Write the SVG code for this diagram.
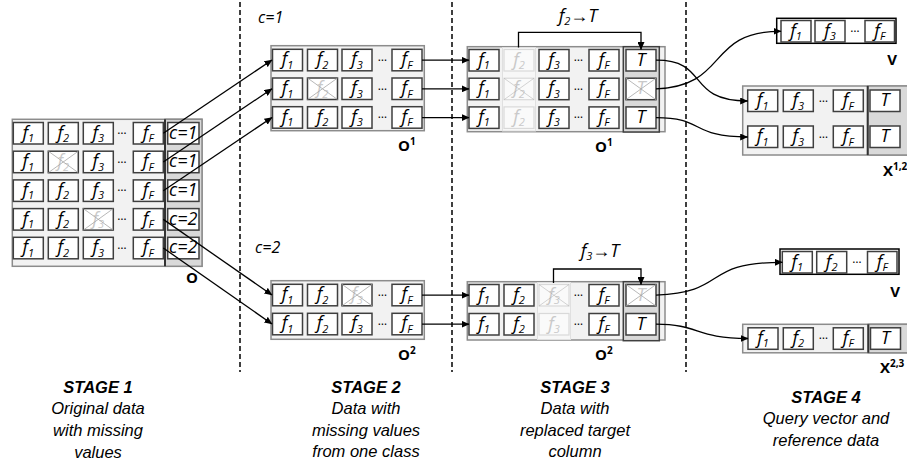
<svg xmlns="http://www.w3.org/2000/svg" width="907" height="466" viewBox="0 0 907 466">
<defs>
<style>
.tb{fill:#f2f2f2;stroke:#8c8c8c;stroke-width:1.5}
.cl{fill:#d9d9d9;stroke:#8c8c8c;stroke-width:1.5}
.tc{fill:#d9d9d9;stroke:#404040;stroke-width:1.5}
.vb{fill:#fff;stroke:#000;stroke-width:1.5}
.dv{stroke:#333;stroke-width:2}
.c{fill:#fff;stroke:#3f3f3f;stroke-width:1.5}
.fc{fill:#fafafa;stroke:#d9d9d9;stroke-width:1.2}
.fcol{fill:#f7f7f7;stroke:#e0e0e0;stroke-width:1}
.x{stroke:#a6a6a6;stroke-width:0.8}
.f{font-family:"Open Sans","Liberation Sans",sans-serif;font-style:italic;font-size:18px;text-anchor:middle;fill:#000}
.s{font-size:11px}
.g{fill:#c9c9c9}
.d{font-family:"Open Sans","Liberation Sans",sans-serif;font-size:12px;text-anchor:middle;fill:#000}
.lb{font-family:"Open Sans","Liberation Sans",sans-serif;font-weight:bold;font-size:15px;fill:#000}
.sup{font-size:10px}
.st{font-family:"Liberation Sans",Arial,sans-serif;font-style:italic;font-size:16.5px;text-anchor:middle;fill:#000}
.stb{font-weight:bold}
.lc{font-family:"Open Sans","Liberation Sans",sans-serif;font-style:italic;font-size:16px;fill:#000}
.cn{fill:none;stroke:#000;stroke-width:1.3}
.dash{stroke:#000;stroke-width:1.5;stroke-dasharray:5 3}
</style>
<marker id="ah" markerWidth="8" markerHeight="7" refX="7.5" refY="3.5" orient="auto" markerUnits="userSpaceOnUse"><path d="M0,0 L8,3.5 L0,7 z" fill="#000"/></marker>
</defs>

<g id="separators">
<line class="dash" x1="240" y1="2" x2="240" y2="372"/>
<line class="dash" x1="452" y1="2" x2="452" y2="372"/>
<line class="dash" x1="686" y1="2" x2="686" y2="372"/>
</g>

<!-- STAGE 1 -->
<g id="stage1-O">
<rect class="tb" x="12.3" y="119.3" width="189.7" height="147"/>
<rect class="cl" x="165" y="119.3" width="37" height="147"/>
<line class="dv" x1="165" y1="119.3" x2="165" y2="266.3"/>
<!-- row 1 -->
<rect class="c" x="13.3" y="122.5" width="30" height="21.5"/><text class="f" x="28.3" y="138.5">f<tspan class="s" dy="3.5">1</tspan></text>
<rect class="c" x="48.3" y="122.5" width="30" height="21.5"/><text class="f" x="63.3" y="138.5">f<tspan class="s" dy="3.5">2</tspan></text>
<rect class="c" x="83.3" y="122.5" width="30" height="21.5"/><text class="f" x="98.3" y="138.5">f<tspan class="s" dy="3.5">3</tspan></text>
<text class="d" x="122" y="134">…</text>
<rect class="c" x="133.3" y="122.5" width="30" height="21.5"/><text class="f" x="148.3" y="138.5">f<tspan class="s" dy="3.5">F</tspan></text>
<rect class="c" x="167.7" y="122.5" width="31.3" height="21.5"/><text class="f" x="183.3" y="138.5" font-size="16">c=1</text>
<!-- row 2 -->
<rect class="c" x="13.3" y="151.2" width="30" height="21.5"/><text class="f" x="28.3" y="167.2">f<tspan class="s" dy="3.5">1</tspan></text>
<rect class="c" x="48.3" y="151.2" width="30" height="21.5"/><text class="f g" x="63.3" y="167.2">f<tspan class="s" dy="3.5">2</tspan></text>
<path class="x" d="M48.3,151.2 L78.3,172.7 M78.3,151.2 L48.3,172.7"/>
<rect class="c" x="83.3" y="151.2" width="30" height="21.5"/><text class="f" x="98.3" y="167.2">f<tspan class="s" dy="3.5">3</tspan></text>
<text class="d" x="122" y="162.7">…</text>
<rect class="c" x="133.3" y="151.2" width="30" height="21.5"/><text class="f" x="148.3" y="167.2">f<tspan class="s" dy="3.5">F</tspan></text>
<rect class="c" x="167.7" y="151.2" width="31.3" height="21.5"/><text class="f" x="183.3" y="167.2" font-size="16">c=1</text>
<!-- row 3 -->
<rect class="c" x="13.3" y="179.9" width="30" height="21.5"/><text class="f" x="28.3" y="195.9">f<tspan class="s" dy="3.5">1</tspan></text>
<rect class="c" x="48.3" y="179.9" width="30" height="21.5"/><text class="f" x="63.3" y="195.9">f<tspan class="s" dy="3.5">2</tspan></text>
<rect class="c" x="83.3" y="179.9" width="30" height="21.5"/><text class="f" x="98.3" y="195.9">f<tspan class="s" dy="3.5">3</tspan></text>
<text class="d" x="122" y="191.4">…</text>
<rect class="c" x="133.3" y="179.9" width="30" height="21.5"/><text class="f" x="148.3" y="195.9">f<tspan class="s" dy="3.5">F</tspan></text>
<rect class="c" x="167.7" y="179.9" width="31.3" height="21.5"/><text class="f" x="183.3" y="195.9" font-size="16">c=1</text>
<!-- row 4 -->
<rect class="c" x="13.3" y="208.6" width="30" height="21.5"/><text class="f" x="28.3" y="224.6">f<tspan class="s" dy="3.5">1</tspan></text>
<rect class="c" x="48.3" y="208.6" width="30" height="21.5"/><text class="f" x="63.3" y="224.6">f<tspan class="s" dy="3.5">2</tspan></text>
<rect class="c" x="83.3" y="208.6" width="30" height="21.5"/><text class="f g" x="98.3" y="224.6">f<tspan class="s" dy="3.5">3</tspan></text>
<path class="x" d="M83.3,208.6 L113.3,230.1 M113.3,208.6 L83.3,230.1"/>
<text class="d" x="122" y="220.1">…</text>
<rect class="c" x="133.3" y="208.6" width="30" height="21.5"/><text class="f" x="148.3" y="224.6">f<tspan class="s" dy="3.5">F</tspan></text>
<rect class="c" x="167.7" y="208.6" width="31.3" height="21.5"/><text class="f" x="183.3" y="224.6" font-size="16">c=2</text>
<!-- row 5 -->
<rect class="c" x="13.3" y="237.3" width="30" height="21.5"/><text class="f" x="28.3" y="253.3">f<tspan class="s" dy="3.5">1</tspan></text>
<rect class="c" x="48.3" y="237.3" width="30" height="21.5"/><text class="f" x="63.3" y="253.3">f<tspan class="s" dy="3.5">2</tspan></text>
<rect class="c" x="83.3" y="237.3" width="30" height="21.5"/><text class="f" x="98.3" y="253.3">f<tspan class="s" dy="3.5">3</tspan></text>
<text class="d" x="122" y="248.8">…</text>
<rect class="c" x="133.3" y="237.3" width="30" height="21.5"/><text class="f" x="148.3" y="253.3">f<tspan class="s" dy="3.5">F</tspan></text>
<rect class="c" x="167.7" y="237.3" width="31.3" height="21.5"/><text class="f" x="183.3" y="253.3" font-size="16">c=2</text>
<text class="lb" x="186" y="283">O</text>
</g>

<!-- STAGE 2 top -->
<g id="stage2-O1">
<text class="lc" x="258" y="22.7">c=1</text>
<rect class="tb" x="271" y="45.7" width="153.3" height="85"/>
<rect class="c" x="272.5" y="49.3" width="30" height="21.5"/><text class="f" x="287.5" y="65.3">f<tspan class="s" dy="3.5">1</tspan></text>
<rect class="c" x="307.5" y="49.3" width="30" height="21.5"/><text class="f" x="322.5" y="65.3">f<tspan class="s" dy="3.5">2</tspan></text>
<rect class="c" x="342" y="49.3" width="30" height="21.5"/><text class="f" x="357" y="65.3">f<tspan class="s" dy="3.5">3</tspan></text>
<text class="d" x="382.5" y="60.8">…</text>
<rect class="c" x="392" y="49.3" width="30" height="21.5"/><text class="f" x="407" y="65.3">f<tspan class="s" dy="3.5">F</tspan></text>

<rect class="c" x="272.5" y="78" width="30" height="21.5"/><text class="f" x="287.5" y="94">f<tspan class="s" dy="3.5">1</tspan></text>
<rect class="c" x="307.5" y="78" width="30" height="21.5"/><text class="f g" x="322.5" y="94">f<tspan class="s" dy="3.5">2</tspan></text>
<path class="x" d="M307.5,78 L337.5,99.5 M337.5,78 L307.5,99.5"/>
<rect class="c" x="342" y="78" width="30" height="21.5"/><text class="f" x="357" y="94">f<tspan class="s" dy="3.5">3</tspan></text>
<text class="d" x="382.5" y="89.5">…</text>
<rect class="c" x="392" y="78" width="30" height="21.5"/><text class="f" x="407" y="94">f<tspan class="s" dy="3.5">F</tspan></text>

<rect class="c" x="272.5" y="106.7" width="30" height="21.5"/><text class="f" x="287.5" y="122.7">f<tspan class="s" dy="3.5">1</tspan></text>
<rect class="c" x="307.5" y="106.7" width="30" height="21.5"/><text class="f" x="322.5" y="122.7">f<tspan class="s" dy="3.5">2</tspan></text>
<rect class="c" x="342" y="106.7" width="30" height="21.5"/><text class="f" x="357" y="122.7">f<tspan class="s" dy="3.5">3</tspan></text>
<text class="d" x="382.5" y="118.2">…</text>
<rect class="c" x="392" y="106.7" width="30" height="21.5"/><text class="f" x="407" y="122.7">f<tspan class="s" dy="3.5">F</tspan></text>
<text class="lb" x="398" y="151">O<tspan class="sup" dy="-6">1</tspan></text>
</g>

<!-- STAGE 2 bottom -->
<g id="stage2-O2">
<text class="lc" x="255" y="253">c=2</text>
<rect class="tb" x="271" y="280.7" width="153.3" height="58.6"/>
<rect class="c" x="272.5" y="284.3" width="30" height="21.5"/><text class="f" x="287.5" y="300.3">f<tspan class="s" dy="3.5">1</tspan></text>
<rect class="c" x="307.5" y="284.3" width="30" height="21.5"/><text class="f" x="322.5" y="300.3">f<tspan class="s" dy="3.5">2</tspan></text>
<rect class="c" x="342" y="284.3" width="30" height="21.5"/><text class="f g" x="357" y="300.3">f<tspan class="s" dy="3.5">3</tspan></text>
<path class="x" d="M342,284.3 L372,305.8 M372,284.3 L342,305.8"/>
<text class="d" x="382.5" y="295.8">…</text>
<rect class="c" x="392" y="284.3" width="30" height="21.5"/><text class="f" x="407" y="300.3">f<tspan class="s" dy="3.5">F</tspan></text>

<rect class="c" x="272.5" y="313.3" width="30" height="21.5"/><text class="f" x="287.5" y="329.3">f<tspan class="s" dy="3.5">1</tspan></text>
<rect class="c" x="307.5" y="313.3" width="30" height="21.5"/><text class="f" x="322.5" y="329.3">f<tspan class="s" dy="3.5">2</tspan></text>
<rect class="c" x="342" y="313.3" width="30" height="21.5"/><text class="f" x="357" y="329.3">f<tspan class="s" dy="3.5">3</tspan></text>
<text class="d" x="382.5" y="324.8">…</text>
<rect class="c" x="392" y="313.3" width="30" height="21.5"/><text class="f" x="407" y="329.3">f<tspan class="s" dy="3.5">F</tspan></text>
<text class="lb" x="398" y="360">O<tspan class="sup" dy="-6">2</tspan></text>
</g>

<!-- STAGE 3 top -->
<g id="stage3-O1">
<text class="f" x="578" y="22" font-size="15">f<tspan class="s" font-size="10" dy="3">2</tspan><tspan dy="-3" font-style="normal">→</tspan>T</text>
<rect class="tb" x="467.3" y="46.7" width="197.7" height="85"/>
<rect class="fcol" x="502.5" y="47.5" width="33" height="83.5"/>
<rect class="tc" x="623.3" y="46.7" width="36" height="85.3"/>

<rect class="c" x="469" y="49.5" width="30" height="21.5"/><text class="f" x="484" y="65.5">f<tspan class="s" dy="3.5">1</tspan></text>
<rect class="fc" x="504" y="49.5" width="30" height="21.5"/><text class="f g" x="519" y="65.5">f<tspan class="s" dy="3.5">2</tspan></text>
<rect class="c" x="539" y="49.5" width="30" height="21.5"/><text class="f" x="554" y="65.5">f<tspan class="s" dy="3.5">3</tspan></text>
<text class="d" x="578.5" y="61">…</text>
<rect class="c" x="589" y="49.5" width="30" height="21.5"/><text class="f" x="604" y="65.5">f<tspan class="s" dy="3.5">F</tspan></text>
<rect class="c" x="626" y="49.5" width="30" height="21.5"/><text class="f" x="641" y="65.5">T</text>

<rect class="c" x="469" y="78.2" width="30" height="21.5"/><text class="f" x="484" y="94.2">f<tspan class="s" dy="3.5">1</tspan></text>
<rect class="fc" x="504" y="78.2" width="30" height="21.5"/><text class="f g" x="519" y="94.2">f<tspan class="s" dy="3.5">2</tspan></text>
<path class="x" d="M504,78.2 L534,99.7 M534,78.2 L504,99.7" stroke-opacity="0.6"/>
<rect class="c" x="539" y="78.2" width="30" height="21.5"/><text class="f" x="554" y="94.2">f<tspan class="s" dy="3.5">3</tspan></text>
<text class="d" x="578.5" y="89.7">…</text>
<rect class="c" x="589" y="78.2" width="30" height="21.5"/><text class="f" x="604" y="94.2">f<tspan class="s" dy="3.5">F</tspan></text>
<rect class="c" x="626" y="78.2" width="30" height="21.5"/><text class="f g" x="641" y="94.2">T</text>
<path class="x" d="M626,78.2 L656,99.7 M656,78.2 L626,99.7"/>

<rect class="c" x="469" y="106.9" width="30" height="21.5"/><text class="f" x="484" y="122.9">f<tspan class="s" dy="3.5">1</tspan></text>
<rect class="fc" x="504" y="106.9" width="30" height="21.5"/><text class="f g" x="519" y="122.9">f<tspan class="s" dy="3.5">2</tspan></text>
<rect class="c" x="539" y="106.9" width="30" height="21.5"/><text class="f" x="554" y="122.9">f<tspan class="s" dy="3.5">3</tspan></text>
<text class="d" x="578.5" y="118.4">…</text>
<rect class="c" x="589" y="106.9" width="30" height="21.5"/><text class="f" x="604" y="122.9">f<tspan class="s" dy="3.5">F</tspan></text>
<rect class="c" x="626" y="106.9" width="30" height="21.5"/><text class="f" x="641" y="122.9">T</text>
<text class="lb" x="595" y="151.7">O<tspan class="sup" dy="-6">1</tspan></text>
</g>

<!-- STAGE 3 bottom -->
<g id="stage3-O2">
<text class="f" x="600" y="257" font-size="15">f<tspan class="s" font-size="10" dy="3">3</tspan><tspan dy="-3" font-style="normal">→</tspan>T</text>
<rect class="tb" x="467.3" y="281.7" width="197.7" height="58.3"/>
<rect class="fcol" x="537.5" y="282.5" width="33" height="57"/>
<rect class="tc" x="623.3" y="281.7" width="36" height="59"/>

<rect class="c" x="469" y="284.5" width="30" height="21.5"/><text class="f" x="484" y="300.5">f<tspan class="s" dy="3.5">1</tspan></text>
<rect class="c" x="504" y="284.5" width="30" height="21.5"/><text class="f" x="519" y="300.5">f<tspan class="s" dy="3.5">2</tspan></text>
<rect class="fc" x="539" y="284.5" width="30" height="21.5"/><text class="f g" x="554" y="300.5">f<tspan class="s" dy="3.5">3</tspan></text>
<path class="x" d="M539,284.5 L569,306 M569,284.5 L539,306" stroke-opacity="0.6"/>
<text class="d" x="578.5" y="296">…</text>
<rect class="c" x="589" y="284.5" width="30" height="21.5"/><text class="f" x="604" y="300.5">f<tspan class="s" dy="3.5">F</tspan></text>
<rect class="c" x="626" y="284.5" width="30" height="21.5"/><text class="f g" x="641" y="300.5">T</text>
<path class="x" d="M626,284.5 L656,306 M656,284.5 L626,306"/>

<rect class="c" x="469" y="313.5" width="30" height="21.5"/><text class="f" x="484" y="329.5">f<tspan class="s" dy="3.5">1</tspan></text>
<rect class="c" x="504" y="313.5" width="30" height="21.5"/><text class="f" x="519" y="329.5">f<tspan class="s" dy="3.5">2</tspan></text>
<rect class="fc" x="539" y="313.5" width="30" height="21.5"/><text class="f g" x="554" y="329.5">f<tspan class="s" dy="3.5">3</tspan></text>
<text class="d" x="578.5" y="325">…</text>
<rect class="c" x="589" y="313.5" width="30" height="21.5"/><text class="f" x="604" y="329.5">f<tspan class="s" dy="3.5">F</tspan></text>
<rect class="c" x="626" y="313.5" width="30" height="21.5"/><text class="f" x="641" y="329.5">T</text>
<text class="lb" x="595" y="360">O<tspan class="sup" dy="-6">2</tspan></text>
</g>

<!-- STAGE 4 -->
<g id="stage4-V1">
<rect class="vb" x="776.7" y="18.3" width="119.3" height="25"/>
<rect class="c" x="781" y="20.5" width="30" height="21.5"/><text class="f" x="796" y="36.5">f<tspan class="s" dy="3.5">1</tspan></text>
<rect class="c" x="815" y="20.5" width="30" height="21.5"/><text class="f" x="830" y="36.5">f<tspan class="s" dy="3.5">3</tspan></text>
<text class="d" x="855" y="32">…</text>
<rect class="c" x="865" y="20.5" width="29.5" height="21.5"/><text class="f" x="879.7" y="36.5">f<tspan class="s" dy="3.5">F</tspan></text>
<text class="lb" x="892" y="65" text-anchor="middle">V</text>
</g>

<g id="stage4-X12">
<rect class="tb" x="742.7" y="86" width="175" height="69"/>
<rect class="cl" x="867.7" y="86" width="50" height="69"/>
<line class="dv" x1="867.7" y1="86" x2="867.7" y2="155"/>
<rect class="c" x="747.7" y="90" width="30" height="21.5"/><text class="f" x="762.7" y="106">f<tspan class="s" dy="3.5">1</tspan></text>
<rect class="c" x="783.3" y="90" width="30" height="21.5"/><text class="f" x="798.3" y="106">f<tspan class="s" dy="3.5">3</tspan></text>
<text class="d" x="823.3" y="101.5">…</text>
<rect class="c" x="833.3" y="90" width="30" height="21.5"/><text class="f" x="848.3" y="106">f<tspan class="s" dy="3.5">F</tspan></text>
<rect class="c" x="870" y="90" width="30" height="21.5"/><text class="f" x="885" y="106">T</text>
<rect class="c" x="747.7" y="126" width="30" height="21.5"/><text class="f" x="762.7" y="142">f<tspan class="s" dy="3.5">1</tspan></text>
<rect class="c" x="783.3" y="126" width="30" height="21.5"/><text class="f" x="798.3" y="142">f<tspan class="s" dy="3.5">3</tspan></text>
<text class="d" x="823.3" y="137.5">…</text>
<rect class="c" x="833.3" y="126" width="30" height="21.5"/><text class="f" x="848.3" y="142">f<tspan class="s" dy="3.5">F</tspan></text>
<rect class="c" x="870" y="126" width="30" height="21.5"/><text class="f" x="885" y="142">T</text>
<text class="lb" x="883" y="176">X<tspan class="sup" dy="-6">1,2</tspan></text>
</g>

<g id="stage4-V2">
<rect class="vb" x="780" y="249" width="119" height="25.3"/>
<rect class="c" x="782.3" y="251.5" width="30" height="21.5"/><text class="f" x="797.3" y="267.5">f<tspan class="s" dy="3.5">1</tspan></text>
<rect class="c" x="816.7" y="251.5" width="30" height="21.5"/><text class="f" x="831.7" y="267.5">f<tspan class="s" dy="3.5">2</tspan></text>
<text class="d" x="857" y="263">…</text>
<rect class="c" x="867.5" y="251.5" width="29.5" height="21.5"/><text class="f" x="882.2" y="267.5">f<tspan class="s" dy="3.5">F</tspan></text>
<text class="lb" x="895" y="297" text-anchor="middle">V</text>
</g>

<g id="stage4-X23">
<rect class="tb" x="742.7" y="324.3" width="175" height="28.5"/>
<rect class="cl" x="868.3" y="324.3" width="50" height="28.5"/>
<line class="dv" x1="868.3" y1="324.3" x2="868.3" y2="352.8"/>
<rect class="c" x="748" y="327.8" width="30" height="21.5"/><text class="f" x="763" y="343.8">f<tspan class="s" dy="3.5">1</tspan></text>
<rect class="c" x="783.3" y="327.8" width="30" height="21.5"/><text class="f" x="798.3" y="343.8">f<tspan class="s" dy="3.5">2</tspan></text>
<text class="d" x="823.3" y="339.3">…</text>
<rect class="c" x="833.3" y="327.8" width="30" height="21.5"/><text class="f" x="848.3" y="343.8">f<tspan class="s" dy="3.5">F</tspan></text>
<rect class="c" x="870.5" y="327.8" width="30" height="21.5"/><text class="f" x="885.5" y="343.8">T</text>
<text class="lb" x="880" y="373">X<tspan class="sup" dy="-6">2,3</tspan></text>
</g>

<g id="connectors">
<path class="cn" marker-end="url(#ah)" d="M163.3,133.3 L272,60"/>
<path class="cn" marker-end="url(#ah)" d="M163.3,162 L272,88.8"/>
<path class="cn" marker-end="url(#ah)" d="M163.3,190.7 L272,117.5"/>
<path class="cn" marker-end="url(#ah)" d="M163.3,219.4 L272,295"/>
<path class="cn" marker-end="url(#ah)" d="M163.3,248 L272,324"/>
<path class="cn" marker-end="url(#ah)" d="M422,60.2 H469"/>
<path class="cn" marker-end="url(#ah)" d="M422,88.9 H469"/>
<path class="cn" marker-end="url(#ah)" d="M422,117.6 H469"/>
<path class="cn" marker-end="url(#ah)" d="M422,295.2 H469"/>
<path class="cn" marker-end="url(#ah)" d="M422,324.2 H469"/>
<path class="cn" marker-end="url(#ah)" d="M518.5,47.5 V32.3 H641 V49.5"/>
<path class="cn" marker-end="url(#ah)" d="M553.5,283 V269 H641 V284.5"/>
<path class="cn" marker-end="url(#ah)" d="M656,60.2 C710,60 685,101 747.7,101"/>
<path class="cn" marker-end="url(#ah)" d="M656,88.9 C730,86 705,31.3 781,31.3"/>
<path class="cn" marker-end="url(#ah)" d="M656,117.6 C705,117.6 690,137 747.7,137"/>
<path class="cn" marker-end="url(#ah)" d="M656,295.2 C730,292 700,262.3 782.3,262.3"/>
<path class="cn" marker-end="url(#ah)" d="M656,324.2 C700,324.2 695,338.5 748,338.5"/>
</g>

<g id="stage-labels">
<text class="st stb" x="98" y="392.7">STAGE 1</text>
<text class="st" x="98" y="414.3">Original data</text>
<text class="st" x="98" y="436">with missing</text>
<text class="st" x="98" y="457.5">values</text>
<text class="st stb" x="366" y="392.7">STAGE 2</text>
<text class="st" x="366" y="414">Data with</text>
<text class="st" x="366" y="435.5">missing values</text>
<text class="st" x="366" y="457">from one class</text>
<text class="st stb" x="575" y="392.7">STAGE 3</text>
<text class="st" x="575" y="414">Data with</text>
<text class="st" x="575" y="435.5">replaced target</text>
<text class="st" x="575" y="457">column</text>
<text class="st stb" x="826" y="402.7">STAGE 4</text>
<text class="st" x="826" y="424.3">Query vector and</text>
<text class="st" x="826" y="445.8">reference data</text>
</g>
</svg>
